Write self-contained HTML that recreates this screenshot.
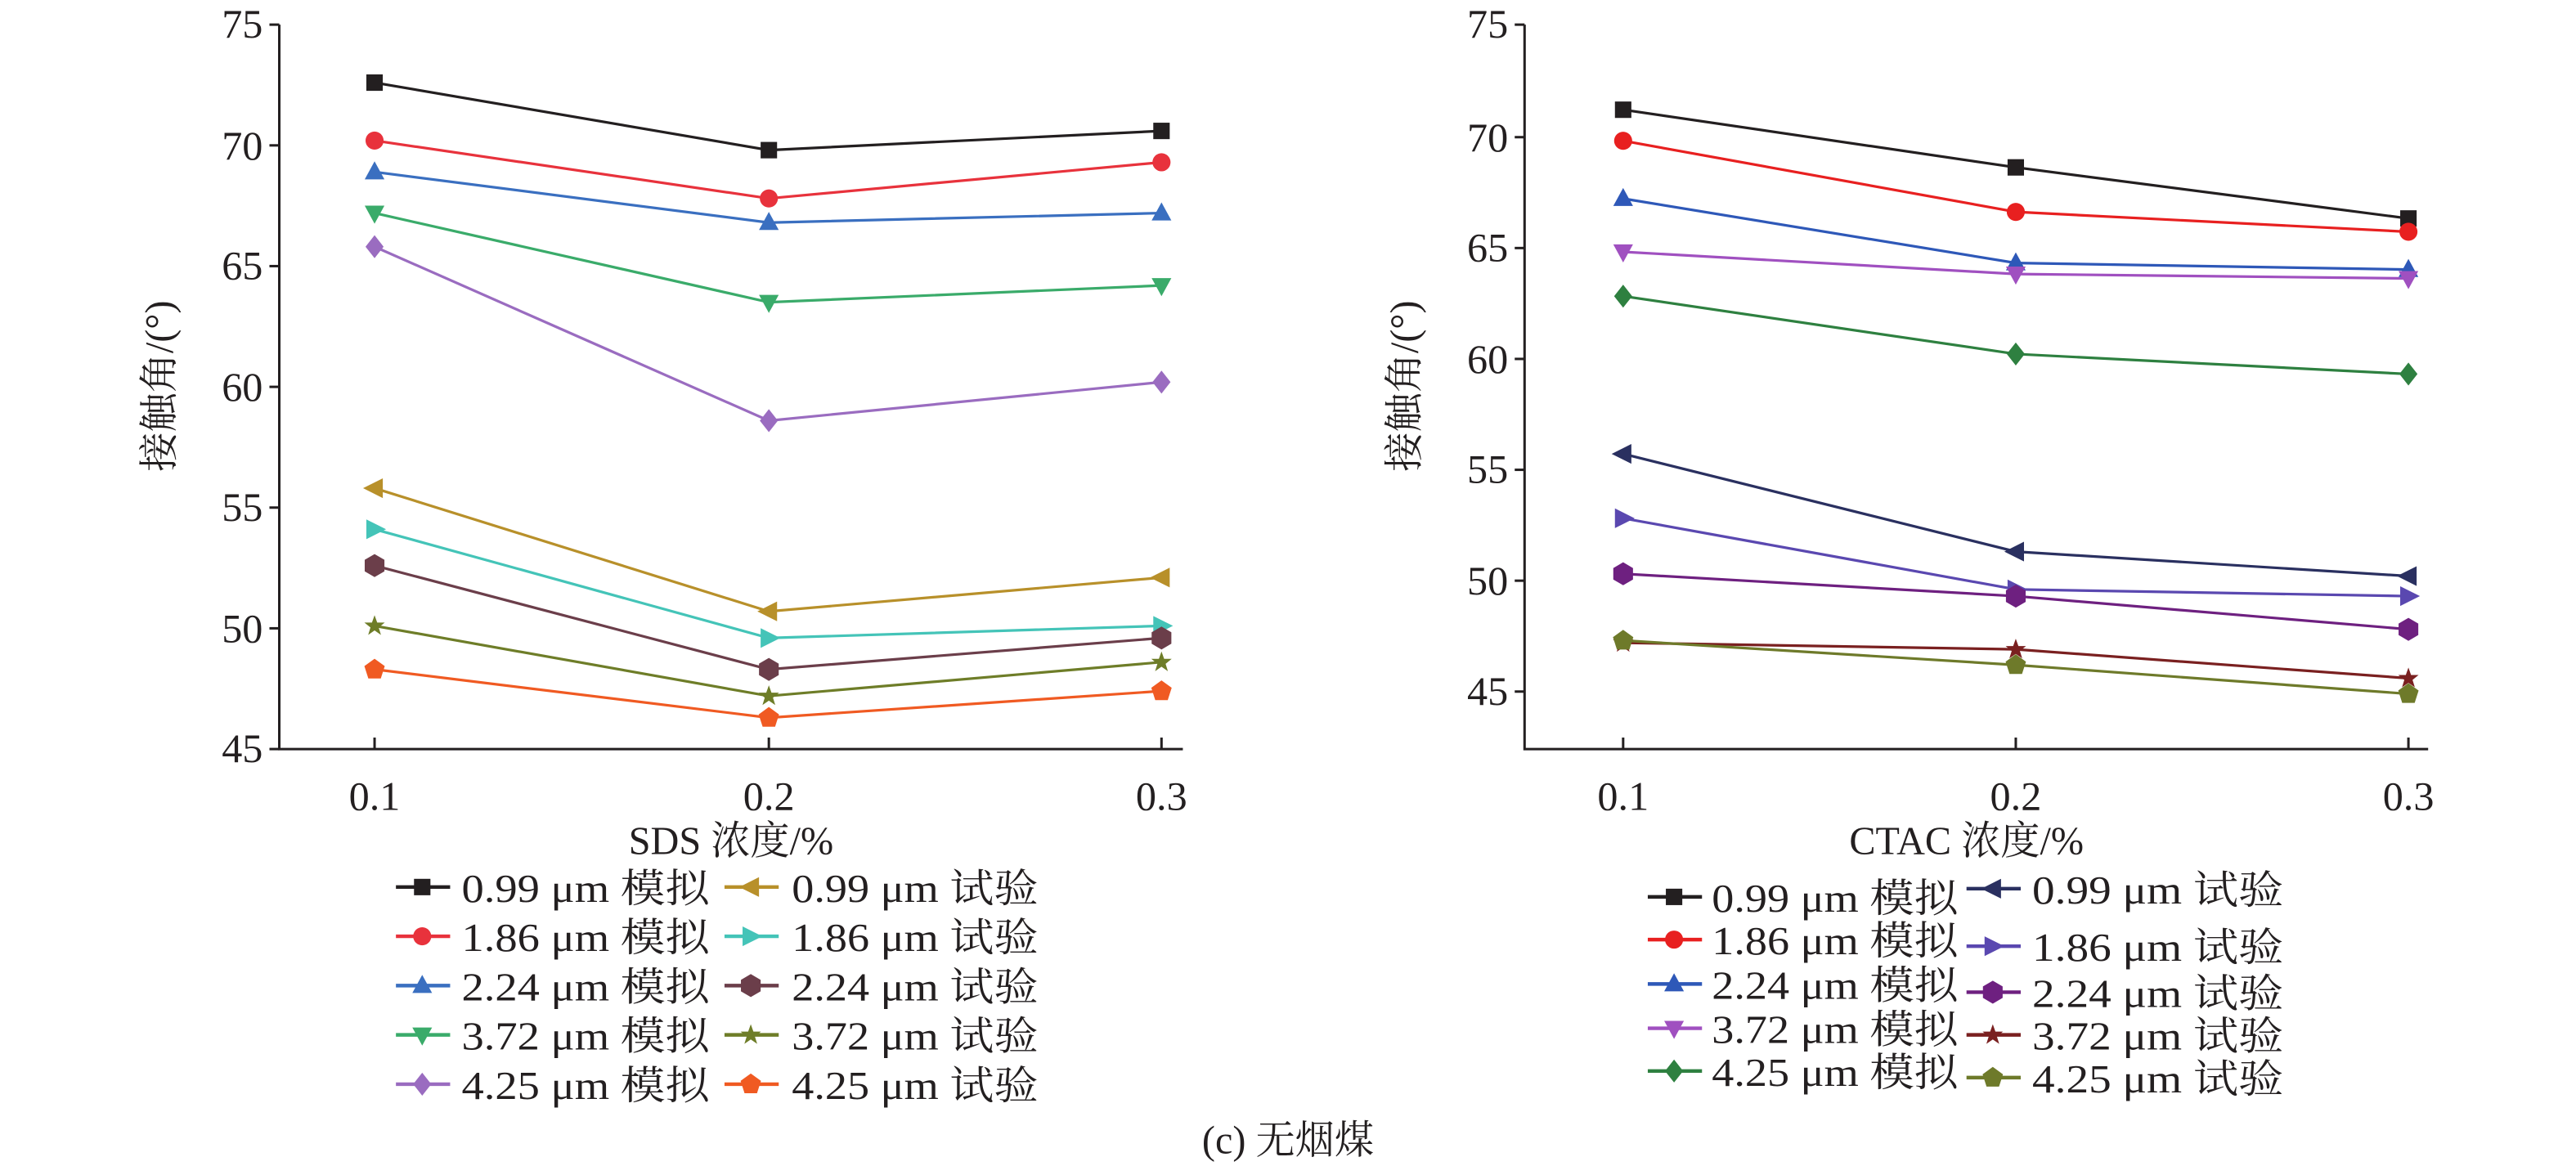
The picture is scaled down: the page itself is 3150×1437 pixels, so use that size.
<!DOCTYPE html>
<html><head><meta charset="utf-8"><style>
html,body{margin:0;padding:0;background:#fff;}
svg{display:block;}
text{font-family:"Liberation Serif","Noto Serif CJK SC",serif;fill:#231f20;}
</style></head><body>
<svg width="3150" height="1437" viewBox="0 0 1568 715.3" preserveAspectRatio="none" xmlns="http://www.w3.org/2000/svg">
<defs>
<symbol id="sq" viewBox="-6 -6 12 12" overflow="visible"><rect x="-5" y="-5" width="10" height="10"/></symbol>
<symbol id="ci" viewBox="-6 -6 12 12" overflow="visible"><circle r="5.5"/></symbol>
<symbol id="tu" viewBox="-6 -6 12 12" overflow="visible"><polygon points="0,-6.5 6,4.5 -6,4.5"/></symbol>
<symbol id="td" viewBox="-6 -6 12 12" overflow="visible"><polygon points="0,6.5 6,-4.5 -6,-4.5"/></symbol>
<symbol id="di" viewBox="-6 -6 12 12" overflow="visible"><polygon points="0,-7 5.5,0 0,7 -5.5,0"/></symbol>
<symbol id="tl" viewBox="-6 -6 12 12" overflow="visible"><polygon points="-7,0 5,-6 5,6"/></symbol>
<symbol id="tr" viewBox="-6 -6 12 12" overflow="visible"><polygon points="7,0 -5,-6 -5,6"/></symbol>
<symbol id="hx" viewBox="-6 -6 12 12" overflow="visible"><polygon points="0,-7 6,-3.5 6,3.5 0,7 -6,3.5 -6,-3.5"/></symbol>
<symbol id="st" viewBox="-6 -6 12 12" overflow="visible"><polygon points="0,-6.5 1.6,-2 6.2,-2 2.5,1 3.9,5.5 0,2.8 -3.9,5.5 -2.5,1 -6.2,-2 -1.6,-2"/></symbol>
<symbol id="pe" viewBox="-6 -6 12 12" overflow="visible"><polygon points="0,-6.5 6.2,-2 3.8,5.5 -3.8,5.5 -6.2,-2"/></symbol>
</defs>

<!-- LEFT AXES -->
<g stroke="#231f20" stroke-width="1.5" fill="none">
<polyline points="170,15 170,456 720,456"/>
<line x1="164" y1="15" x2="170" y2="15"/><line x1="164" y1="88.5" x2="170" y2="88.5"/><line x1="164" y1="162" x2="170" y2="162"/><line x1="164" y1="235.5" x2="170" y2="235.5"/><line x1="164" y1="309" x2="170" y2="309"/><line x1="164" y1="382.5" x2="170" y2="382.5"/><line x1="164" y1="456" x2="170" y2="456"/>
<line x1="228" y1="449" x2="228" y2="456"/><line x1="468" y1="449" x2="468" y2="456"/><line x1="707" y1="449" x2="707" y2="456"/>
</g>
<g font-size="25" text-anchor="end">
<text x="160" y="23">75</text><text x="160" y="97">70</text><text x="160" y="170">65</text><text x="160" y="244">60</text><text x="160" y="317">55</text><text x="160" y="391">50</text><text x="160" y="464">45</text>
</g>
<g font-size="25" text-anchor="middle">
<text x="228" y="493">0.1</text><text x="468" y="493">0.2</text><text x="707" y="493">0.3</text>
</g>
<text x="445" y="520" font-size="24" text-anchor="middle">SDS 浓度/%</text>
<text transform="translate(105,235) rotate(-90)" font-size="24" text-anchor="middle">接触角/(°)</text>

<!-- LEFT SERIES -->
<g fill="none" stroke-width="1.6">
<polyline stroke="#231f20" points="228,50.3 468,91.4 707,79.7"/>
<polyline stroke="#e8323c" points="228,85.6 468,120.8 707,98.8"/>
<polyline stroke="#3a6fc0" points="228,104.7 468,135.5 707,129.7"/>
<polyline stroke="#3aab6a" points="228,129.7 468,184 707,173.8"/>
<polyline stroke="#9a6cc0" points="228,150.2 468,256.1 707,232.6"/>
<polyline stroke="#b8902a" points="228,297.2 468,372.2 707,351.6"/>
<polyline stroke="#44c4b8" points="228,322.2 468,388.4 707,381"/>
<polyline stroke="#6b3e4a" points="228,344.3 468,407.5 707,388.4"/>
<polyline stroke="#6e7d28" points="228,381 468,423.7 707,403.1"/>
<polyline stroke="#f05a22" points="228,407.5 468,436.9 707,420.7"/>
</g>
<g>
<g fill="#231f20"><use href="#sq" x="222" y="44.3" width="12" height="12"/><use href="#sq" x="462" y="85.4" width="12" height="12"/><use href="#sq" x="701" y="73.7" width="12" height="12"/></g>
<g fill="#e8323c"><use href="#ci" x="222" y="79.6" width="12" height="12"/><use href="#ci" x="462" y="114.8" width="12" height="12"/><use href="#ci" x="701" y="92.8" width="12" height="12"/></g>
<g fill="#3a6fc0"><use href="#tu" x="222" y="98.7" width="12" height="12"/><use href="#tu" x="462" y="129.5" width="12" height="12"/><use href="#tu" x="701" y="123.7" width="12" height="12"/></g>
<g fill="#3aab6a"><use href="#td" x="222" y="123.7" width="12" height="12"/><use href="#td" x="462" y="178" width="12" height="12"/><use href="#td" x="701" y="167.8" width="12" height="12"/></g>
<g fill="#9a6cc0"><use href="#di" x="222" y="144.2" width="12" height="12"/><use href="#di" x="462" y="250.1" width="12" height="12"/><use href="#di" x="701" y="226.6" width="12" height="12"/></g>
<g fill="#b8902a"><use href="#tl" x="222" y="291.2" width="12" height="12"/><use href="#tl" x="462" y="366.2" width="12" height="12"/><use href="#tl" x="701" y="345.6" width="12" height="12"/></g>
<g fill="#44c4b8"><use href="#tr" x="222" y="316.2" width="12" height="12"/><use href="#tr" x="462" y="382.4" width="12" height="12"/><use href="#tr" x="701" y="375" width="12" height="12"/></g>
<g fill="#6b3e4a"><use href="#hx" x="222" y="338.3" width="12" height="12"/><use href="#hx" x="462" y="401.5" width="12" height="12"/><use href="#hx" x="701" y="382.4" width="12" height="12"/></g>
<g fill="#6e7d28"><use href="#st" x="222" y="375" width="12" height="12"/><use href="#st" x="462" y="417.7" width="12" height="12"/><use href="#st" x="701" y="397.1" width="12" height="12"/></g>
<g fill="#f05a22"><use href="#pe" x="222" y="401.5" width="12" height="12"/><use href="#pe" x="462" y="430.9" width="12" height="12"/><use href="#pe" x="701" y="414.7" width="12" height="12"/></g>
</g>

<!-- LEFT LEGEND -->
<g stroke-width="2.2">
<line x1="241" x2="274" y1="540" y2="540" stroke="#231f20"/><use href="#sq" x="251" y="534" width="12" height="12" fill="#231f20"/>
<line x1="241" x2="274" y1="570" y2="570" stroke="#e8323c"/><use href="#ci" x="251" y="564" width="12" height="12" fill="#e8323c"/>
<line x1="241" x2="274" y1="600" y2="600" stroke="#3a6fc0"/><use href="#tu" x="251" y="594" width="12" height="12" fill="#3a6fc0"/>
<line x1="241" x2="274" y1="630" y2="630" stroke="#3aab6a"/><use href="#td" x="251" y="624" width="12" height="12" fill="#3aab6a"/>
<line x1="241" x2="274" y1="660" y2="660" stroke="#9a6cc0"/><use href="#di" x="251" y="654" width="12" height="12" fill="#9a6cc0"/>
<line x1="441" x2="474" y1="540" y2="540" stroke="#b8902a"/><use href="#tl" x="451" y="534" width="12" height="12" fill="#b8902a"/>
<line x1="441" x2="474" y1="570" y2="570" stroke="#44c4b8"/><use href="#tr" x="451" y="564" width="12" height="12" fill="#44c4b8"/>
<line x1="441" x2="474" y1="600" y2="600" stroke="#6b3e4a"/><use href="#hx" x="451" y="594" width="12" height="12" fill="#6b3e4a"/>
<line x1="441" x2="474" y1="630" y2="630" stroke="#6e7d28"/><use href="#st" x="451" y="624" width="12" height="12" fill="#6e7d28"/>
<line x1="441" x2="474" y1="660" y2="660" stroke="#f05a22"/><use href="#pe" x="451" y="654" width="12" height="12" fill="#f05a22"/>
</g>
<g font-size="24">
<text x="281" y="549" textLength="151" lengthAdjust="spacingAndGlyphs">0.99 μm 模拟</text>
<text x="281" y="579" textLength="151" lengthAdjust="spacingAndGlyphs">1.86 μm 模拟</text>
<text x="281" y="609" textLength="151" lengthAdjust="spacingAndGlyphs">2.24 μm 模拟</text>
<text x="281" y="639" textLength="151" lengthAdjust="spacingAndGlyphs">3.72 μm 模拟</text>
<text x="281" y="669" textLength="151" lengthAdjust="spacingAndGlyphs">4.25 μm 模拟</text>
<text x="482" y="549" textLength="150" lengthAdjust="spacingAndGlyphs">0.99 μm 试验</text>
<text x="482" y="579" textLength="150" lengthAdjust="spacingAndGlyphs">1.86 μm 试验</text>
<text x="482" y="609" textLength="150" lengthAdjust="spacingAndGlyphs">2.24 μm 试验</text>
<text x="482" y="639" textLength="150" lengthAdjust="spacingAndGlyphs">3.72 μm 试验</text>
<text x="482" y="669" textLength="150" lengthAdjust="spacingAndGlyphs">4.25 μm 试验</text>
</g>

<!-- RIGHT AXES -->
<g stroke="#231f20" stroke-width="1.5" fill="none">
<polyline points="928,15 928,456 1478,456"/>
<line x1="922" y1="15" x2="928" y2="15"/><line x1="922" y1="83.5" x2="928" y2="83.5"/><line x1="922" y1="151" x2="928" y2="151"/><line x1="922" y1="218.5" x2="928" y2="218.5"/><line x1="922" y1="286" x2="928" y2="286"/><line x1="922" y1="353.5" x2="928" y2="353.5"/><line x1="922" y1="421" x2="928" y2="421"/>
<line x1="988" y1="449" x2="988" y2="456"/><line x1="1227" y1="449" x2="1227" y2="456"/><line x1="1466" y1="449" x2="1466" y2="456"/>
</g>
<g font-size="25" text-anchor="end">
<text x="918" y="23">75</text><text x="918" y="92">70</text><text x="918" y="159">65</text><text x="918" y="227">60</text><text x="918" y="294">55</text><text x="918" y="362">50</text><text x="918" y="429">45</text>
</g>
<g font-size="25" text-anchor="middle">
<text x="988" y="493">0.1</text><text x="1227" y="493">0.2</text><text x="1466" y="493">0.3</text>
</g>
<text x="1197" y="520" font-size="24" text-anchor="middle">CTAC 浓度/%</text>
<text transform="translate(863,235) rotate(-90)" font-size="24" text-anchor="middle">接触角/(°)</text>

<!-- RIGHT SERIES -->
<g fill="none" stroke-width="1.6">
<polyline stroke="#231f20" points="988,66.8 1227,101.9 1466,133"/>
<polyline stroke="#e82020" points="988,85.7 1227,129 1466,141.1"/>
<polyline stroke="#2e58b8" points="988,120.9 1227,160.1 1466,164.1"/>
<polyline stroke="#a050c0" points="988,153.3 1227,166.8 1466,169.5"/>
<polyline stroke="#2e8040" points="988,180.3 1227,215.5 1466,227.7"/>
<polyline stroke="#2a3060" points="988,276.3 1227,335.8 1466,350.7"/>
<polyline stroke="#5a48b0" points="988,315.5 1227,358.8 1466,362.9"/>
<polyline stroke="#6e2080" points="988,349.3 1227,362.9 1466,383.1"/>
<polyline stroke="#7a2020" points="988,391.3 1227,395.3 1466,412.9"/>
<polyline stroke="#6e7a2a" points="988,389.9 1227,404.8 1466,422.4"/>
</g>
<g>
<g fill="#231f20"><use href="#sq" x="982" y="60.8" width="12" height="12"/><use href="#sq" x="1221" y="95.9" width="12" height="12"/><use href="#sq" x="1460" y="127" width="12" height="12"/></g>
<g fill="#e82020"><use href="#ci" x="982" y="79.7" width="12" height="12"/><use href="#ci" x="1221" y="123" width="12" height="12"/><use href="#ci" x="1460" y="135.1" width="12" height="12"/></g>
<g fill="#2e58b8"><use href="#tu" x="982" y="114.9" width="12" height="12"/><use href="#tu" x="1221" y="154.1" width="12" height="12"/><use href="#tu" x="1460" y="158.1" width="12" height="12"/></g>
<g fill="#a050c0"><use href="#td" x="982" y="147.3" width="12" height="12"/><use href="#td" x="1221" y="160.8" width="12" height="12"/><use href="#td" x="1460" y="163.5" width="12" height="12"/></g>
<g fill="#2e8040"><use href="#di" x="982" y="174.3" width="12" height="12"/><use href="#di" x="1221" y="209.5" width="12" height="12"/><use href="#di" x="1460" y="221.7" width="12" height="12"/></g>
<g fill="#2a3060"><use href="#tl" x="982" y="270.3" width="12" height="12"/><use href="#tl" x="1221" y="329.8" width="12" height="12"/><use href="#tl" x="1460" y="344.7" width="12" height="12"/></g>
<g fill="#5a48b0"><use href="#tr" x="982" y="309.5" width="12" height="12"/><use href="#tr" x="1221" y="352.8" width="12" height="12"/><use href="#tr" x="1460" y="356.9" width="12" height="12"/></g>
<g fill="#6e2080"><use href="#hx" x="982" y="343.3" width="12" height="12"/><use href="#hx" x="1221" y="356.9" width="12" height="12"/><use href="#hx" x="1460" y="377.1" width="12" height="12"/></g>
<g fill="#7a2020"><use href="#st" x="982" y="385.3" width="12" height="12"/><use href="#st" x="1221" y="389.3" width="12" height="12"/><use href="#st" x="1460" y="406.9" width="12" height="12"/></g>
<g fill="#6e7a2a"><use href="#pe" x="982" y="383.9" width="12" height="12"/><use href="#pe" x="1221" y="398.8" width="12" height="12"/><use href="#pe" x="1460" y="416.4" width="12" height="12"/></g>
</g>

<!-- RIGHT LEGEND -->
<g stroke-width="2.2">
<line x1="1003" x2="1036" y1="546" y2="546" stroke="#231f20"/><use href="#sq" x="1013" y="540" width="12" height="12" fill="#231f20"/>
<line x1="1003" x2="1036" y1="572" y2="572" stroke="#e82020"/><use href="#ci" x="1013" y="566" width="12" height="12" fill="#e82020"/>
<line x1="1003" x2="1036" y1="599" y2="599" stroke="#2e58b8"/><use href="#tu" x="1013" y="593" width="12" height="12" fill="#2e58b8"/>
<line x1="1003" x2="1036" y1="626" y2="626" stroke="#a050c0"/><use href="#td" x="1013" y="620" width="12" height="12" fill="#a050c0"/>
<line x1="1003" x2="1036" y1="652" y2="652" stroke="#2e8040"/><use href="#di" x="1013" y="646" width="12" height="12" fill="#2e8040"/>
<line x1="1197" x2="1230" y1="541" y2="541" stroke="#2a3060"/><use href="#tl" x="1207" y="535" width="12" height="12" fill="#2a3060"/>
<line x1="1197" x2="1230" y1="576" y2="576" stroke="#5a48b0"/><use href="#tr" x="1207" y="570" width="12" height="12" fill="#5a48b0"/>
<line x1="1197" x2="1230" y1="604" y2="604" stroke="#6e2080"/><use href="#hx" x="1207" y="598" width="12" height="12" fill="#6e2080"/>
<line x1="1197" x2="1230" y1="630" y2="630" stroke="#7a2020"/><use href="#st" x="1207" y="624" width="12" height="12" fill="#7a2020"/>
<line x1="1197" x2="1230" y1="656" y2="656" stroke="#6e7a2a"/><use href="#pe" x="1207" y="650" width="12" height="12" fill="#6e7a2a"/>
</g>
<g font-size="24">
<text x="1042" y="555" textLength="150" lengthAdjust="spacingAndGlyphs">0.99 μm 模拟</text>
<text x="1042" y="581" textLength="150" lengthAdjust="spacingAndGlyphs">1.86 μm 模拟</text>
<text x="1042" y="608" textLength="150" lengthAdjust="spacingAndGlyphs">2.24 μm 模拟</text>
<text x="1042" y="635" textLength="150" lengthAdjust="spacingAndGlyphs">3.72 μm 模拟</text>
<text x="1042" y="661" textLength="150" lengthAdjust="spacingAndGlyphs">4.25 μm 模拟</text>
<text x="1237" y="550" textLength="153" lengthAdjust="spacingAndGlyphs">0.99 μm 试验</text>
<text x="1237" y="585" textLength="153" lengthAdjust="spacingAndGlyphs">1.86 μm 试验</text>
<text x="1237" y="613" textLength="153" lengthAdjust="spacingAndGlyphs">2.24 μm 试验</text>
<text x="1237" y="639" textLength="153" lengthAdjust="spacingAndGlyphs">3.72 μm 试验</text>
<text x="1237" y="665" textLength="153" lengthAdjust="spacingAndGlyphs">4.25 μm 试验</text>
</g>

<text x="784" y="702" font-size="24" text-anchor="middle">(c) 无烟煤</text>
</svg>
</body></html>
